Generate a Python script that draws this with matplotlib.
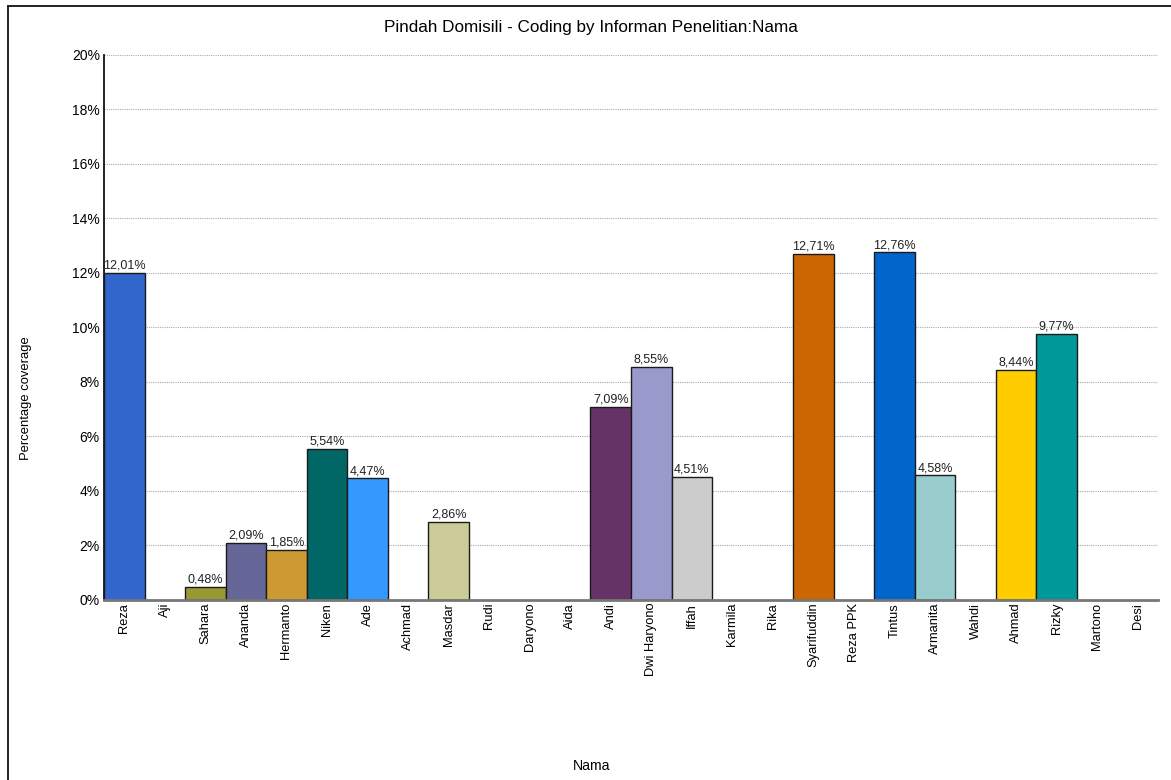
import matplotlib
matplotlib.use("Agg")
import matplotlib.pyplot as plt
from matplotlib.lines import Line2D

names = ["Reza", "Aji", "Sahara", "Ananda", "Hermanto", "Niken", "Ade", "Achmad",
         "Masdar", "Rudi", "Daryono", "Aida", "Andi", "Dwi Haryono", "Iffah",
         "Karmila", "Rika", "Syarifuddin", "Reza PPK", "Tintus", "Armanita",
         "Wahdi", "Ahmad", "Rizky", "Martono", "Desi"]
coverage = [12.01, 0, 0.48, 2.09, 1.85, 5.54, 4.47, 0,
            2.86, 0, 0, 0, 7.09, 8.55, 4.51,
            0, 0, 12.71, 0, 12.76, 4.58,
            0, 8.44, 9.77, 0, 0]
colors = ["#3366CC", "#FFFFFF", "#999933", "#666699", "#CC9933", "#006666", "#3399FF", "#FFFFFF",
          "#CCCC99", "#FFFFFF", "#FFFFFF", "#FFFFFF", "#663366", "#9999CC", "#CCCCCC",
          "#FFFFFF", "#FFFFFF", "#CC6600", "#FFFFFF", "#0066CC", "#99CCCC",
          "#FFFFFF", "#FFCC00", "#009999", "#FFFFFF", "#FFFFFF"]
y_ticks = [0, 2, 4, 6, 8, 10, 12, 14, 16, 18, 20]

plt.rcParams["font.family"] = ["Liberation Sans", "DejaVu Sans"]

fig = plt.figure(figsize=(11.71, 7.80), dpi=100)
# frame lines on the left and top edges of the canvas
fig.lines.append(Line2D([0.0065, 0.0065], [0.0, 0.992], transform=fig.transFigure,
                        color="#222222", linewidth=1.4))
fig.lines.append(Line2D([0.0065, 1.0], [0.992, 0.992], transform=fig.transFigure,
                        color="#222222", linewidth=1.4))

ax = fig.add_axes([0.0888, 0.2308, 0.9001, 0.6987])
x = list(range(len(names)))
for i, (v, c) in enumerate(zip(coverage, colors)):
    if v > 0:
        ax.bar(i, v, width=1.0, color=c, edgecolor="#1a1a1a", linewidth=1.0, zorder=3)
        ax.text(i, v + 0.04, f"{v:.2f}%".replace(".", ","), ha="center", va="bottom",
                fontsize=9, color="#222222", zorder=4)

ax.set_xlim(-0.5, len(names) - 0.5)
ax.set_ylim(0, 20)
ax.set_yticks(y_ticks)
ax.set_yticklabels([f"{t}%" for t in y_ticks], fontsize=10)
ax.set_xticks(x)
ax.set_xticklabels(names, rotation=90, fontsize=9.3, va="top")
ax.tick_params(axis="y", length=0, pad=3)
ax.tick_params(axis="x", length=0, pad=2)
ax.grid(axis="y", linestyle=(0, (1, 1)), color="#aaaaaa", linewidth=0.8, zorder=0)

for s in ("top", "right"):
    ax.spines[s].set_visible(False)
ax.spines["left"].set_color("#111111")
ax.spines["left"].set_linewidth(1.3)
ax.spines["bottom"].set_color("#777777")
ax.spines["bottom"].set_linewidth(2.0)
ax.spines["bottom"].set_zorder(5)

fig.text(0.505, 0.965, "Pindah Domisili - Coding by Informan Penelitian:Nama",
         ha="center", va="center", fontsize=12.3)
fig.text(0.022, 0.49, "Percentage coverage", rotation=90, ha="center", va="center",
         fontsize=9.4)
fig.text(0.505, 0.018, "Nama", ha="center", va="center", fontsize=10.2)

fig.savefig("out.png", dpi=100)
